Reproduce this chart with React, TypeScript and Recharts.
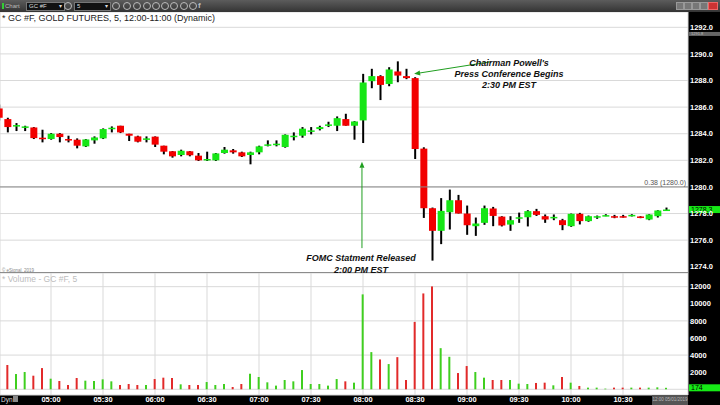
import React from 'react';
import { ComposedChart, Bar, XAxis, YAxis, CartesianGrid, ReferenceLine, Cell } from 'recharts';

// 5 minute bars, first bar at 04:30
const sessionStart = '04:30';
const timeTicks = ['05:00', '05:30', '06:00', '06:30', '07:00', '07:30', '08:00', '08:30', '09:00', '09:30', '10:00', '10:30'];
const priceTicks = [1274, 1276, 1278, 1280, 1282, 1284, 1286, 1288, 1290, 1292];
const volumeTicks = [0, 2000, 4000, 6000, 8000, 10000, 12000];

const opens = [
  1285.9, 1285.1, 1284.6, 1284.5, 1284.47, 1283.7, 1283.6, 1284.0, 1283.6, 1283.55,
  1283.05, 1283.5, 1283.65, 1284.35, 1284.6, 1284.0, 1283.8, 1283.55, 1283.78, 1283.1,
  1282.68, 1282.4, 1282.68, 1282.35, 1282.05, 1282.0, 1282.55, 1282.75, 1282.6, 1282.4,
  1282.6, 1283.1, 1283.15, 1283.0, 1283.75, 1283.85, 1284.2, 1284.35, 1284.6, 1284.6,
  1285.1, 1284.6, 1285.0, 1287.95, 1288.33, 1287.74, 1288.68, 1288.33, 1288.18, 1282.88,
  1278.4, 1276.7, 1278.1, 1279.0, 1278.0, 1277.05, 1277.3, 1278.38, 1277.77, 1277.17,
  1277.65, 1277.72, 1278.18, 1277.8, 1277.65, 1277.5, 1277.05, 1277.98, 1277.43, 1277.75,
  1277.85, 1277.8, 1277.8, 1277.85, 1277.78, 1277.55, 1277.8, 1278.25,
];
const highs = [
  1286.2, 1285.2, 1284.8, 1284.6, 1284.5, 1284.3, 1284.05, 1284.05, 1283.85, 1283.65,
  1283.6, 1283.8, 1284.4, 1284.55, 1284.6, 1284.0, 1283.85, 1283.8, 1283.8, 1283.1,
  1282.7, 1282.8, 1282.7, 1282.55, 1282.65, 1282.55, 1283.0, 1282.85, 1282.65, 1282.65,
  1283.1, 1283.5, 1283.5, 1283.95, 1284.1, 1284.5, 1284.5, 1284.6, 1284.9, 1285.3,
  1285.5, 1284.95, 1288.5, 1288.88, 1288.4, 1289.0, 1289.44, 1288.88, 1288.25, 1282.98,
  1278.45, 1279.16, 1279.8, 1279.4, 1278.6, 1277.7, 1278.6, 1278.5, 1277.8, 1277.8,
  1278.07, 1278.25, 1278.35, 1277.93, 1277.93, 1277.6, 1278.0, 1278.05, 1277.85, 1277.85,
  1277.95, 1277.9, 1277.9, 1277.95, 1277.8, 1277.95, 1278.25, 1278.45,
];
const lows = [
  1285.0, 1284.1, 1284.2, 1284.2, 1283.6, 1283.35, 1283.55, 1283.35, 1283.35, 1282.9,
  1283.0, 1283.25, 1283.6, 1284.1, 1284.05, 1283.45, 1283.35, 1283.35, 1283.0, 1282.45,
  1282.2, 1282.3, 1282.3, 1281.95, 1281.95, 1281.95, 1282.5, 1282.5, 1282.25, 1281.7,
  1282.45, 1283.05, 1283.05, 1282.95, 1283.5, 1283.7, 1283.95, 1284.25, 1284.5, 1284.2,
  1284.6, 1283.55, 1283.3, 1287.42, 1286.53, 1287.57, 1287.87, 1288.1, 1282.1, 1277.67,
  1274.46, 1275.7, 1276.8, 1278.0, 1276.4, 1276.32, 1277.15, 1277.05, 1277.03, 1276.7,
  1277.3, 1277.03, 1277.82, 1277.3, 1277.5, 1276.75, 1277.0, 1277.18, 1277.38, 1277.6,
  1277.8, 1277.65, 1277.7, 1277.78, 1277.65, 1277.5, 1277.7, 1278.25,
];
const closes = [
  1285.2, 1284.5, 1284.65, 1284.55, 1283.67, 1283.65, 1284.0, 1283.75, 1283.55, 1283.1,
  1283.57, 1283.72, 1284.35, 1284.45, 1284.1, 1283.85, 1283.4, 1283.65, 1283.18, 1282.65,
  1282.3, 1282.72, 1282.38, 1282.0, 1282.1, 1282.52, 1282.8, 1282.6, 1282.3, 1282.6,
  1283.05, 1283.2, 1283.25, 1283.92, 1283.85, 1284.38, 1284.25, 1284.5, 1284.7, 1285.17,
  1284.6, 1284.92, 1287.85, 1288.33, 1287.67, 1288.83, 1288.37, 1288.18, 1282.85, 1278.4,
  1276.7, 1278.2, 1279.0, 1278.0, 1277.12, 1277.25, 1278.4, 1277.82, 1277.1, 1277.5,
  1277.72, 1278.18, 1277.9, 1277.55, 1277.75, 1277.13, 1277.98, 1277.43, 1277.8, 1277.8,
  1277.88, 1277.73, 1277.73, 1277.9, 1277.68, 1277.93, 1278.23, 1278.3,
];
const volumes = [
  1500, 2830, 1785, 2020, 1590, 2480, 1240, 970, 505, 1320,
  1010, 970, 1165, 930, 505, 620, 505, 505, 1200, 1360,
  1320, 580, 505, 505, 850, 505, 620, 270, 620, 1820,
  1435, 815, 430, 1090, 930, 2250, 620, 620, 430, 1200,
  930, 775, 11100, 4350, 3490, 2950, 3760, 1090, 7880, 11210,
  12030, 4810, 3800, 1900, 2720, 2020, 1360, 1090, 1090, 1090,
  660, 620, 740, 775, 465, 1435, 775, 390, 195, 195,
  80, 195, 195, 195, 195, 195, 230, 174,
];

const GREEN = '#16e616';
const RED = '#f20000';
const VOL_GREEN = '#3fcf1f';
const VOL_RED = '#e22a2a';
const ARROW = '#1f9e1f';
const FONT = '"Liberation Sans", Arial, sans-serif';

const toMinutes = (t: string) => {
  const [h, m] = t.split(':').map(Number);
  return h * 60 + m;
};
const barIndex = (t: string) => (toMinutes(t) - toMinutes(sessionStart)) / 5;
const tickIdx = timeTicks.map(barIndex);
const labelOf = (v: number) => timeTicks[tickIdx.indexOf(v)] ?? '';

const bars = opens.map((o, i) => ({
  i,
  open: o,
  high: highs[i],
  low: lows[i],
  close: closes[i],
  volume: volumes[i],
  up: closes[i] >= o,
}));
const last = bars[bars.length - 1];

const xDomain = [0.115, 79.5];

const Candle = (props: any) => {
  const { x, y, width, height, payload } = props;
  const top = Math.min(y, y + height);
  const span = Math.abs(height);
  const range = payload.high - payload.low || 1;
  const py = (v: number) => top + ((payload.high - v) / range) * span;
  const cx = x + width / 2;
  const bTop = py(Math.max(payload.open, payload.close));
  const bBot = py(Math.min(payload.open, payload.close));
  const bh = Math.max(bBot - bTop, 1.5);
  return (
    <g>
      <line x1={cx} x2={cx} y1={top} y2={top + span} stroke="#000" strokeWidth={2} />
      <rect x={cx - 3.5} y={bTop} width={7} height={bh} fill={payload.up ? GREEN : RED} />
    </g>
  );
};

const Arrow = (p: any) => {
  const { x1, y1, x2, y2 } = p;
  const a = Math.atan2(y2 - y1, x2 - x1);
  const L = 6;
  const W = 2.5;
  const bx = x2 - L * Math.cos(a);
  const by = y2 - L * Math.sin(a);
  const pts = `${x2},${y2} ${bx - W * Math.sin(a)},${by + W * Math.cos(a)} ${bx + W * Math.sin(a)},${by - W * Math.cos(a)}`;
  return (
    <g>
      <line x1={x1} y1={y1} x2={bx} y2={by} stroke={ARROW} strokeWidth={1} />
      <polygon points={pts} fill={ARROW} />
    </g>
  );
};

const axisTag = (text: string, bg: string, color: string, h: number, fs: number) => (props: any) => {
  const { viewBox } = props;
  const x = viewBox.x + viewBox.width + 1;
  return (
    <g>
      <rect x={x} y={viewBox.y - h / 2} width={31} height={h} fill={bg} />
      <text x={x + 2} y={viewBox.y + fs * 0.36} fontSize={fs} fontFamily={FONT} fill={color}>
        {text}
      </text>
    </g>
  );
};

const fibLabel = (props: any) => {
  const { viewBox } = props;
  return (
    <text x={viewBox.x + viewBox.width - 2} y={viewBox.y - 2} textAnchor="end" fontSize={7} fontFamily={FONT} fill="#555">
      0.38 (1280.0)
    </text>
  );
};

const axisTick = { fill: '#fff', fontSize: 7.5, fontWeight: 'bold' as const, fontFamily: FONT };

const Toolbar = () => (
  <div style={{ position: 'absolute', left: 0, top: 0, width: 720, height: 12, background: 'linear-gradient(#5c5c5c, #343434)', fontFamily: FONT }}>
    <div style={{ position: 'absolute', left: 2, top: 3, width: 2, height: 6, background: '#3c3' }} />
    <span style={{ position: 'absolute', left: 5, top: 2, fontSize: 6, color: '#bbb', lineHeight: '8px' }}>Chart</span>
    <div style={{ position: 'absolute', left: 26, top: 2, width: 35, height: 7, background: '#111', border: '1px solid #777', fontSize: 6, color: '#ddd', lineHeight: '7px', paddingLeft: 2, boxSizing: 'content-box' }}>
      GC #F<span style={{ position: 'absolute', right: 2 }}>▾</span>
    </div>
    <div style={{ position: 'absolute', left: 64, top: 2, width: 6, height: 6, borderRadius: 4, border: '1px solid #bbb' }} />
    <div style={{ position: 'absolute', left: 74, top: 2, width: 33, height: 7, background: '#111', border: '1px solid #777', fontSize: 6, color: '#ddd', lineHeight: '7px', paddingLeft: 2 }}>
      5<span style={{ position: 'absolute', right: 2 }}>▾</span>
    </div>
    {[112, 123, 133, 143, 152, 161, 170, 180, 189].map((l) => (
      <div key={l} style={{ position: 'absolute', left: l, top: 2, width: 6, height: 6, borderRadius: 4, border: '1px solid #bbb' }} />
    ))}
    <span style={{ position: 'absolute', left: 198, top: 1, fontSize: 8, color: '#bbb', fontWeight: 'bold', lineHeight: '10px' }}>f</span>
    {[676, 684, 692, 700].map((l) => (
      <div key={l} style={{ position: 'absolute', left: l, top: 2, width: 6, height: 6, background: '#777', border: '1px solid #999' }} />
    ))}
    <div style={{ position: 'absolute', left: 708, top: 2, width: 8, height: 6, background: '#c33', border: '1px solid #e66' }} />
  </div>
);

const note: React.CSSProperties = {
  position: 'absolute',
  fontFamily: FONT,
  fontSize: 9,
  fontWeight: 'bold',
  fontStyle: 'italic',
  color: '#111',
  textAlign: 'center',
  whiteSpace: 'nowrap',
};

export default function App() {
  return (
    <div style={{ position: 'absolute', left: 0, top: 0, width: 720, height: 405, background: '#fff', overflow: 'hidden', fontFamily: FONT }}>
      <Toolbar />
      <div style={{ position: 'absolute', left: 688, top: 12, width: 32, height: 393, background: '#000' }} />
      <div style={{ position: 'absolute', left: 0, top: 395, width: 688, height: 10, background: '#000' }} />

      <div style={{ position: 'absolute', left: 0, top: 12 }}>
        <ComposedChart width={720} height={261} data={bars} margin={{ top: 0, right: 0, bottom: 0, left: 0 }}>
          <CartesianGrid stroke="#d9d9d9" />
          <XAxis dataKey="i" type="number" domain={xDomain} allowDataOverflow ticks={tickIdx} height={0} tick={false} axisLine={false} tickLine={false} />
          <YAxis
            orientation="right"
            width={32}
            type="number"
            domain={[1273.53, 1293.15]}
            allowDataOverflow
            ticks={priceTicks}
            tickFormatter={(v: number) => v.toFixed(1)}
            tick={axisTick}
            tickLine={false}
            tickSize={0}
            tickMargin={2}
            axisLine={false}
          />
          <ReferenceLine y={1280} stroke="#8a8a8a" label={fibLabel} />
          <Bar dataKey={(d: any) => [d.low, d.high]} shape={Candle} barSize={7} isAnimationActive={false} />
          <ReferenceLine y={1291.5} stroke="none" label={axisTag('1291.8', '#666', '#bbb', 4, 4)} />
          <ReferenceLine y={last.close} stroke="none" label={axisTag(last.close.toFixed(1), '#16ea16', '#000', 7, 7)} />
          <ReferenceLine segment={[{ x: 56.65, y: 1289.4 }, { x: 47.9, y: 1288.5 }]} shape={Arrow} />
          <ReferenceLine segment={[{ x: 41.88, y: 1275.4 }, { x: 41.88, y: 1281.9 }]} shape={Arrow} />
        </ComposedChart>
      </div>

      <div style={{ position: 'absolute', left: 0, top: 272, width: 688, height: 1, background: '#8c8c8c' }} />

      <div style={{ position: 'absolute', left: 0, top: 273 }}>
        <ComposedChart width={720} height={132} data={bars} margin={{ top: 0, right: 0, bottom: 0, left: 0 }}>
          <CartesianGrid stroke="#d9d9d9" />
          <XAxis
            dataKey="i"
            type="number"
            domain={xDomain}
            allowDataOverflow
            ticks={tickIdx}
            tickFormatter={labelOf}
            height={10}
            tick={axisTick}
            tickLine={false}
            tickSize={0}
            tickMargin={2}
            axisLine={false}
          />
          <YAxis
            orientation="right"
            width={32}
            type="number"
            domain={[-667, 13600]}
            allowDataOverflow
            ticks={volumeTicks}
            tickFormatter={(v: number) => (v === 0 ? '' : String(v))}
            tick={axisTick}
            tickLine={false}
            tickSize={0}
            tickMargin={2}
            axisLine={false}
          />
          <Bar dataKey="volume" barSize={2} isAnimationActive={false}>
            {bars.map((b) => (
              <Cell key={b.i} fill={b.up ? VOL_GREEN : VOL_RED} />
            ))}
          </Bar>
          <ReferenceLine y={last.volume} stroke="none" label={axisTag(String(last.volume), '#16ea16', '#000', 7, 7)} />
        </ComposedChart>
      </div>

      <div style={{ position: 'absolute', left: 2, top: 13, fontSize: 9, color: '#222', lineHeight: '11px' }}>
        * GC #F, GOLD FUTURES, 5, 12:00-11:00 (Dynamic)
      </div>
      <div style={{ position: 'absolute', left: 2, top: 268, fontSize: 4.5, color: '#888', lineHeight: '5px' }}>© eSignal, 2019</div>
      <div style={{ position: 'absolute', left: 2, top: 274, fontSize: 8.5, color: '#bdbdbd', lineHeight: '11px' }}>* Volume - GC #F, 5</div>
      <div style={{ position: 'absolute', left: 1, top: 396, fontSize: 6.5, color: '#ddd', lineHeight: '8px' }}>Dyn</div>
      <div style={{ position: 'absolute', left: 13, top: 396, width: 5, height: 6, background: '#888' }} />
      <div style={{ position: 'absolute', left: 652, top: 395, width: 36, height: 10, background: '#555', fontSize: 4.5, color: '#bbb', lineHeight: '10px', textAlign: 'center' }}>
        12:00 05/01/2019
      </div>

      <div style={{ ...note, left: 449, top: 58, width: 120, lineHeight: '11px' }}>
        Chairman Powell's
        <br />
        Press Conference Begins
        <br />
        2:30 PM EST
      </div>
      <div style={{ ...note, left: 296, top: 252, width: 130, lineHeight: '12px' }}>
        FOMC Statment Released
        <br />
        2:00 PM EST
      </div>
    </div>
  );
}
